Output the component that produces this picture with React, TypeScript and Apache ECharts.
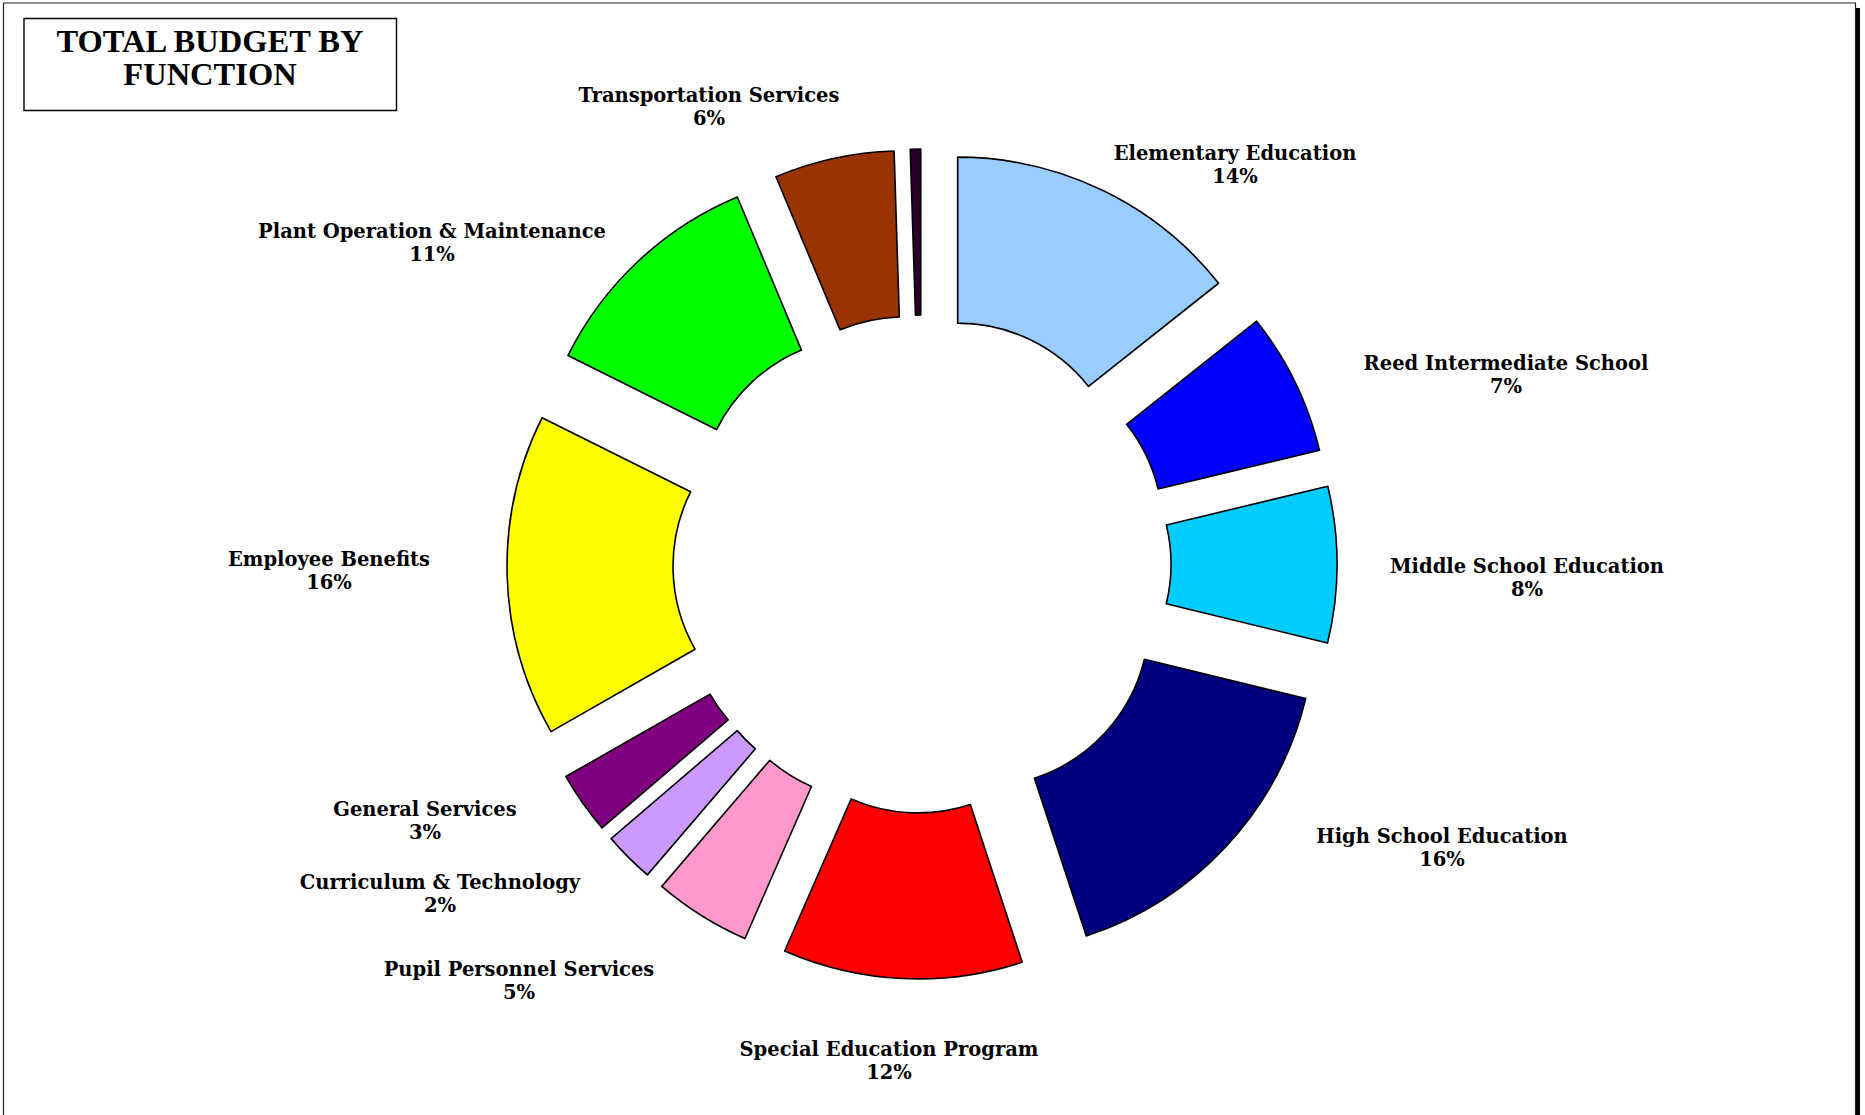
import React, { useEffect, useRef } from "react";
import * as echarts from "echarts";

const categories = [
  "Elementary Education",
  "Reed Intermediate School",
  "Middle School Education",
  "High School Education",
  "Special Education Program",
  "Pupil Personnel Services",
  "Curriculum & Technology",
  "General Services",
  "Employee Benefits",
  "Plant Operation & Maintenance",
  "Transportation Services",
  "Other",
];

const values = [14.3, 6.9, 7.55, 16.1, 11.6, 4.7, 2.45, 3.0, 15.6, 11.3, 5.8, 0.5];

const colors = [
  "#99CCFF",
  "#0000FF",
  "#00CCFF",
  "#000080",
  "#FF0000",
  "#FF99CC",
  "#CC99FF",
  "#800080",
  "#FFFF00",
  "#00FF00",
  "#993300",
  "#2a002a",
];

const showLabel = [true, true, true, true, true, true, true, true, true, true, true, false];

// label block centres, relative to the pie centre (px)
const labelOffsets: [number, number][] = [
  [313, -399],
  [584, -189],
  [605, 14],
  [520, 284],
  [-33, 497],
  [-403, 417],
  [-482, 330],
  [-497, 257],
  [-593, 7],
  [-490, -321],
  [-213, -457],
  [0, -480],
];

const CX = 922;
const CY = 564;

export default function App() {
  const ref = useRef<HTMLDivElement>(null);
  useEffect(() => {
    if (!ref.current) return;
    const chart = echarts.init(ref.current, undefined, { renderer: "svg" });
    const total = values.reduce((a, b) => a + b, 0);
    const labelFont = "DejaVu Serif";
    chart.setOption({
      animation: false,
      backgroundColor: "#ffffff",
      graphic: [
        {
          type: "rect",
          z: -10,
          shape: { x: 8, y: 8, width: 1852, height: 1200 },
          style: { fill: "#000000" },
        },
        {
          type: "rect",
          z: -9,
          shape: { x: 3.5, y: 3, width: 1852, height: 1200 },
          style: { fill: "#ffffff", stroke: "#222222", lineWidth: 1.2 },
        },
        {
          type: "group",
          z: 100,
          children: [
            {
              type: "rect",
              shape: { x: 24, y: 18.5, width: 372.5, height: 92 },
              style: { fill: "#ffffff", stroke: "#000000", lineWidth: 1.4 },
            },
            {
              type: "text",
              x: 210,
              y: 57,
              style: {
                text: "TOTAL BUDGET BY\nFUNCTION",
                font: 'bold 32.5px "Liberation Serif"',
                fill: "#000000",
                textAlign: "center",
                textVerticalAlign: "middle",
                lineHeight: 33,
              },
            },
          ],
        },
      ],
      series: [
        {
          type: "pie",
          center: [CX, CY],
          radius: [167, 333],
          startAngle: 90,
          clockwise: true,
          selectedMode: "multiple",
          selectedOffset: 82,
          avoidLabelOverlap: false,
          emphasis: { disabled: true },
          itemStyle: { borderColor: "#000000", borderWidth: 1.6 },
          select: {
            itemStyle: { borderColor: "#000000", borderWidth: 1.6 },
          },
          label: { show: false },
          labelLine: { show: false },
          data: categories.map((name, i) => ({
            name,
            value: values[i],
            selected: true,
            itemStyle: { color: colors[i] },
            select: { itemStyle: { color: colors[i] } },
          })),
        },
        {
          type: "pie",
          center: [CX, CY],
          radius: [167, 333],
          startAngle: 90,
          clockwise: true,
          silent: true,
          selectedMode: false,
          avoidLabelOverlap: false,
          emphasis: { disabled: true },
          z: 1,
          itemStyle: { color: "rgba(0,0,0,0)", borderWidth: 0 },
          label: {
            show: true,
            position: "outside",
            fontFamily: labelFont,
            fontWeight: "bold",
            fontSize: 19.5,
            lineHeight: 23,
            color: "#000000",
            formatter: (p: any) =>
              `${p.name}\n${Math.round((p.value / total) * 100)}%`,
          },
          labelLine: { show: false },
          labelLayout: (p: any) => {
            const o = labelOffsets[p.dataIndex];
            return {
              x: CX + o[0],
              y: CY + o[1],
              align: "center",
              verticalAlign: "middle",
            };
          },
          data: categories.map((name, i) => ({
            name,
            value: values[i],
            label: { show: showLabel[i] },
          })),
        },
      ],
    });
    return () => chart.dispose();
  }, []);
  return (
    <div
      ref={ref}
      style={{ position: "fixed", left: 0, top: 0, width: 1865, height: 1115 }}
    />
  );
}
